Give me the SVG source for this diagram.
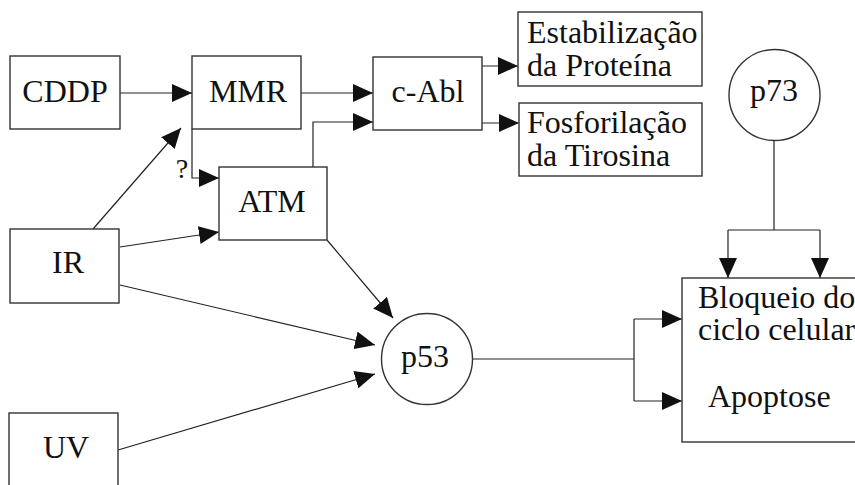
<svg xmlns="http://www.w3.org/2000/svg" width="855" height="485" viewBox="0 0 855 485" font-family="Liberation Serif, Times New Roman, serif">
<style>
.box{fill:#fff;stroke:#333;stroke-width:1.4}
.ln{fill:none;stroke:#222;stroke-width:1.2}
text{font-size:32px;fill:#111}
.c{text-anchor:middle}
</style>
<defs>
<marker id="ah" markerUnits="userSpaceOnUse" markerWidth="20" markerHeight="18" refX="20" refY="9" orient="auto">
<path d="M0,0 L20,9 L0,18 z" fill="#111"/>
</marker>
</defs>
<rect width="855" height="485" fill="#fff"/>
<g id="connectors">
<line class="ln" x1="120" y1="93" x2="192" y2="93" marker-end="url(#ah)"/>
<line class="ln" x1="301" y1="93" x2="373" y2="93" marker-end="url(#ah)"/>
<polyline class="ln" points="313,167 313,122 373,122" marker-end="url(#ah)"/>
<polyline class="ln" points="192,129 192,178 219,178" marker-end="url(#ah)"/>
<line class="ln" x1="93" y1="229" x2="181" y2="128" marker-end="url(#ah)"/>
<line class="ln" x1="120" y1="247" x2="219" y2="232" marker-end="url(#ah)"/>
<line class="ln" x1="482" y1="66" x2="518" y2="66" marker-end="url(#ah)"/>
<line class="ln" x1="482" y1="123" x2="519" y2="123" marker-end="url(#ah)"/>
<line class="ln" x1="327" y1="240" x2="393" y2="318" marker-end="url(#ah)"/>
<line class="ln" x1="120" y1="285" x2="375" y2="345" marker-end="url(#ah)"/>
<line class="ln" x1="118" y1="450" x2="375" y2="374" marker-end="url(#ah)"/>
<line class="ln" x1="473" y1="359" x2="634" y2="359"/>
<line class="ln" x1="634" y1="319" x2="634" y2="401"/>
<line class="ln" x1="634" y1="319" x2="682" y2="319" marker-end="url(#ah)"/>
<line class="ln" x1="634" y1="401" x2="682" y2="401" marker-end="url(#ah)"/>
<line class="ln" x1="774" y1="141" x2="774" y2="230"/>
<line class="ln" x1="728" y1="230" x2="820" y2="230"/>
<line class="ln" x1="728" y1="230" x2="728" y2="278" marker-end="url(#ah)"/>
<line class="ln" x1="820" y1="230" x2="820" y2="278" marker-end="url(#ah)"/>
</g>
<g id="cddp"><rect class="box" x="10" y="56" width="110" height="73"/><text class="c" x="65" y="102">CDDP</text></g>
<g id="mmr"><rect class="box" x="192" y="56" width="109" height="73"/><text class="c" x="248" y="102">MMR</text></g>
<g id="cabl"><rect class="box" x="373" y="57" width="109" height="73"/><text class="c" x="428" y="102">c-Abl</text></g>
<g id="atm"><rect class="box" x="219" y="167" width="108" height="73"/><text class="c" x="272" y="212">ATM</text></g>
<g id="q"><text class="c" x="182" y="178" style="font-size:28px">?</text></g>
<g id="ir"><rect class="box" x="10" y="229" width="109" height="74"/><text class="c" x="68" y="273">IR</text></g>
<g id="uv"><rect class="box" x="9" y="413" width="109" height="76"/><text class="c" x="66" y="458">UV</text></g>
<g id="estab"><rect class="box" x="518" y="12" width="184" height="74"/><text x="527" y="43">Estabilização</text><text x="527" y="76">da Proteína</text></g>
<g id="fosf"><rect class="box" x="519" y="103" width="183" height="73"/><text x="527" y="133">Fosforilação</text><text x="527" y="166">da Tirosina</text></g>
<g id="p73"><circle class="box" cx="774.5" cy="95" r="45.5"/><text class="c" x="774" y="101">p73</text></g>
<g id="p53"><circle class="box" cx="427" cy="359" r="45.5"/><text class="c" x="425" y="367">p53</text></g>
<g id="resp"><rect class="box" x="682" y="278" width="180" height="164"/><text x="698" y="308">Bloqueio do</text><text x="698" y="340">ciclo celular</text><text x="708" y="407">Apoptose</text></g>
</svg>
